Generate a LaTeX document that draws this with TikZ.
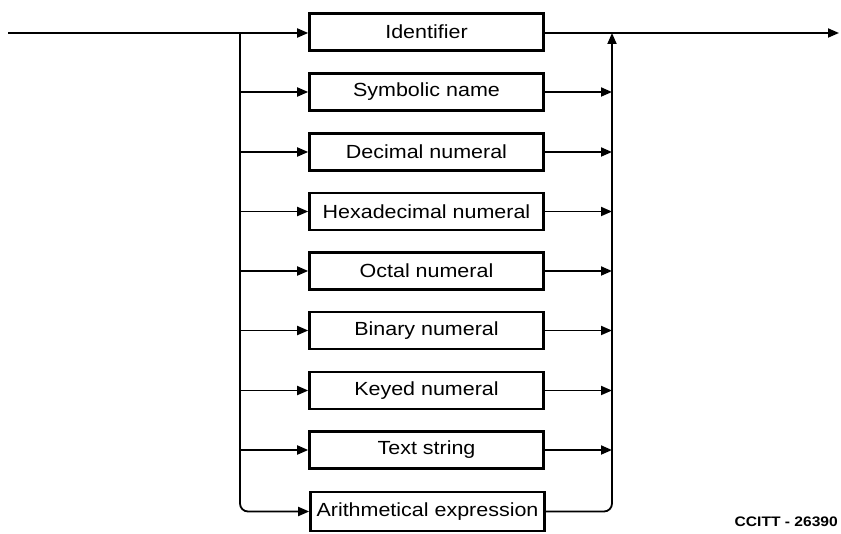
\documentclass[tikz,border=0pt]{standalone}
\usepackage{fontspec}
\setmainfont{Liberation Sans}[FakeStretch=1.13]
\usetikzlibrary{arrows.meta}
\begin{document}
\begin{tikzpicture}[x=1pt,y=-1pt,
  box/.style={draw,line width=2.6pt,minimum width=234pt,minimum height=37pt,inner sep=0pt,font=\fontsize{19}{22}\selectfont},
  flow/.style={line width=1.8pt,-{Triangle[length=11pt,width=9pt]}},
  tag/.style={inner sep=0pt,font=\fontsize{13.8}{16}\selectfont\bfseries}]
  \useasboundingbox (0,0) rectangle (841,534);
  % alternatives
  \node[box] (ident) at (426.5,32) {Identifier};
  \node[box] (symb) at (426.5,92) {Symbolic name};
  \node[box] (dec) at (426.5,152) {Decimal numeral};
  \node[box] (hex) at (426.5,211.5) {Hexadecimal numeral};
  \node[box] (oct) at (426.5,271) {Octal numeral};
  \node[box] (bin) at (426.5,330.5) {Binary numeral};
  \node[box] (keyed) at (426.5,390.5) {Keyed numeral};
  \node[box] (text) at (426.5,450) {Text string};
  \node[box,minimum height=39pt] (arith) at (427.5,511.5) {Arithmetical expression};
  \coordinate (in) at (8,33);
  \coordinate (out) at (839,33);
  \coordinate (split) at (240,33);
  \coordinate (join) at (612,33);
  % entry and exit
  \draw[flow] (in) -- (split) -- (split -| ident.west);
  \draw[flow] (ident.east |- out) -- (out);
  \draw[flow,rounded corners=8pt] (split) |- (arith);
  \draw[flow,rounded corners=8pt] (arith) -| (join);
  % branches
  \draw[flow] (split |- symb) -- (symb);
  \draw[flow] (split |- dec) -- (dec);
  \draw[flow] (split |- hex) -- (hex);
  \draw[flow] (split |- oct) -- (oct);
  \draw[flow] (split |- bin) -- (bin);
  \draw[flow] (split |- keyed) -- (keyed);
  \draw[flow] (split |- text) -- (text);
  \draw[flow] (symb) -- (join |- symb);
  \draw[flow] (dec) -- (join |- dec);
  \draw[flow] (hex) -- (join |- hex);
  \draw[flow] (oct) -- (join |- oct);
  \draw[flow] (bin) -- (join |- bin);
  \draw[flow] (keyed) -- (join |- keyed);
  \draw[flow] (text) -- (join |- text);
  \node[tag,anchor=east] (ref) at (838,522) {CCITT - 26390};
\end{tikzpicture}
\end{document}
